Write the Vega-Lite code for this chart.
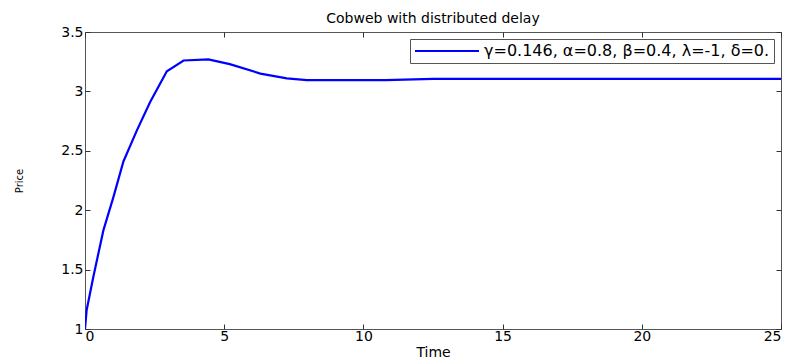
{
  "$schema": "https://vega.github.io/schema/vega-lite/v6.json",
  "width": 696,
  "height": 297,
  "autosize": {"type": "none"},
  "padding": {"left": 85, "top": 32, "right": 12, "bottom": 34},
  "background": "white",
  "title": {
    "text": "Cobweb with distributed delay",
    "font": "DejaVu Sans",
    "fontSize": 14,
    "fontWeight": "normal",
    "color": "black",
    "anchor": "middle",
    "baseline": "alphabetic",
    "offset": -12
  },
  "config": {
    "view": {"stroke": "#555555", "strokeWidth": 1},
    "axis": {
      "labelFont": "DejaVu Sans",
      "labelFontSize": 14,
      "labelColor": "black",
      "titleFont": "DejaVu Sans",
      "titleFontWeight": "normal",
      "titleColor": "black",
      "tickColor": "#333333",
      "tickSize": -5,
      "domain": false,
      "grid": false
    },
    "legend": {
      "orient": "top-right",
      "offset": 7,
      "padding": 4,
      "strokeColor": "#555555",
      "fillColor": "white",
      "cornerRadius": 0,
      "symbolType": "M-4.57,0H4.57",
      "symbolSize": 196,
      "symbolOffset": 25,
      "symbolStrokeWidth": 2,
      "labelFont": "DejaVu Sans",
      "labelFontSize": 16,
      "labelColor": "black",
      "labelLimit": 0,
      "labelOffset": 29
    }
  },
  "data": {
    "values": [
      {"t": 0, "p": 1.0, "s": "γ=0.146, α=0.8, β=0.4, λ=-1, δ=0."},
      {"t": 0.06, "p": 1.16, "s": "γ=0.146, α=0.8, β=0.4, λ=-1, δ=0."},
      {"t": 0.3, "p": 1.44, "s": "γ=0.146, α=0.8, β=0.4, λ=-1, δ=0."},
      {"t": 0.66, "p": 1.83, "s": "γ=0.146, α=0.8, β=0.4, λ=-1, δ=0."},
      {"t": 1.02, "p": 2.11, "s": "γ=0.146, α=0.8, β=0.4, λ=-1, δ=0."},
      {"t": 1.38, "p": 2.41, "s": "γ=0.146, α=0.8, β=0.4, λ=-1, δ=0."},
      {"t": 1.86, "p": 2.67, "s": "γ=0.146, α=0.8, β=0.4, λ=-1, δ=0."},
      {"t": 2.34, "p": 2.91, "s": "γ=0.146, α=0.8, β=0.4, λ=-1, δ=0."},
      {"t": 2.94, "p": 3.17, "s": "γ=0.146, α=0.8, β=0.4, λ=-1, δ=0."},
      {"t": 3.54, "p": 3.26, "s": "γ=0.146, α=0.8, β=0.4, λ=-1, δ=0."},
      {"t": 4.43, "p": 3.27, "s": "γ=0.146, α=0.8, β=0.4, λ=-1, δ=0."},
      {"t": 5.2, "p": 3.23, "s": "γ=0.146, α=0.8, β=0.4, λ=-1, δ=0."},
      {"t": 6.3, "p": 3.15, "s": "γ=0.146, α=0.8, β=0.4, λ=-1, δ=0."},
      {"t": 7.25, "p": 3.11, "s": "γ=0.146, α=0.8, β=0.4, λ=-1, δ=0."},
      {"t": 7.97, "p": 3.095, "s": "γ=0.146, α=0.8, β=0.4, λ=-1, δ=0."},
      {"t": 10.8, "p": 3.095, "s": "γ=0.146, α=0.8, β=0.4, λ=-1, δ=0."},
      {"t": 12.5, "p": 3.105, "s": "γ=0.146, α=0.8, β=0.4, λ=-1, δ=0."},
      {"t": 25, "p": 3.105, "s": "γ=0.146, α=0.8, β=0.4, λ=-1, δ=0."}
    ]
  },
  "layer": [
    {
      "mark": {"type": "line", "strokeWidth": 2.2, "clip": true},
      "encoding": {
        "x": {
          "field": "t", "type": "quantitative",
          "scale": {"domain": [0, 25], "nice": false, "zero": false},
          "axis": {"orient": "bottom", "values": [0, 5, 10, 15, 20, 25], "format": "~g", "labelPadding": 5, "title": "Time", "titleFontSize": 14, "titlePadding": 2}
        },
        "y": {
          "field": "p", "type": "quantitative",
          "scale": {"domain": [1, 3.5], "nice": false, "zero": false},
          "axis": {"orient": "left", "values": [1, 1.5, 2, 2.5, 3, 3.5], "format": "~g", "labelPadding": 7, "title": "Price", "titleFontSize": 10, "titlePadding": 36}
        },
        "color": {
          "field": "s", "type": "nominal",
          "scale": {"range": ["#0000ff"]},
          "legend": {"title": null}
        }
      }
    },
    {
      "mark": {"type": "line", "opacity": 0},
      "encoding": {
        "x": {
          "field": "t", "type": "quantitative",
          "axis": {"orient": "top", "values": [0, 5, 10, 15, 20, 25], "labels": false, "title": null}
        },
        "y": {
          "field": "p", "type": "quantitative",
          "axis": {"orient": "right", "values": [1, 1.5, 2, 2.5, 3, 3.5], "labels": false, "title": null}
        }
      }
    }
  ],
  "resolve": {"axis": {"x": "independent", "y": "independent"}}
}
